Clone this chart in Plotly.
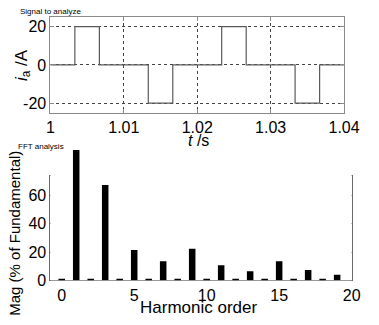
import plotly.graph_objects as go

# Signal (step breakpoints)
sig_t = [1.0, 1.00333, 1.00667, 1.01333, 1.01667, 1.02333, 1.02667, 1.03333, 1.03667, 1.04]
sig_i = [0, 20, 0, -20, 0, 20, 0, -20, 0, 0]

# FFT harmonics (fundamental bar runs past the top of the frame)
harm_order = list(range(0, 20))
harm_mag = [0.6, 92.2, 0.6, 67.5, 0.6, 21.4, 0.6, 13.4, 0.6, 22.4,
            0.6, 10.6, 0.6, 6.4, 0.6, 13.4, 0.6, 7.3, 0.6, 3.9]

top_xticks = [1, 1.01, 1.02, 1.03, 1.04]
top_xlabels = ["1", "1.01", "1.02", "1.03", "1.04"]
top_yticks = [-20, 0, 20]
bot_xticks = [0, 5, 10, 15, 20]
bot_yticks = [0, 20, 40, 60]

W, H = 379, 325
FONT = "Liberation Sans, Arial, sans-serif"


def px_x(a, b):
    return [a / W, b / W]


def px_y(top, bottom):
    return [1 - bottom / H, 1 - top / H]


# bottom plot geometry
B_TOP, B_BOT = 181.0, 288.3
B_YMAX = 73.8
BAR_TOP = 152.0
scale = (B_BOT - B_TOP) / B_YMAX
B3_YMAX = (B_BOT - BAR_TOP) / scale

fig = go.Figure()
fig.add_trace(go.Scatter(x=sig_t, y=sig_i, mode="lines", line_shape="hv",
                         line=dict(color="#5a5a5a", width=1.2),
                         xaxis="x", yaxis="y", showlegend=False, hoverinfo="skip"))
# empty trace so the bottom frame/axes are drawn
fig.add_trace(go.Scatter(x=[None], y=[None], mode="lines", xaxis="x2", yaxis="y2",
                         showlegend=False))
# bars on an overlay axis with identical scale but taller extent (so bar 1 can overflow)
fig.add_trace(go.Bar(x=harm_order, y=harm_mag, width=0.45,
                     marker=dict(color="black", line=dict(width=0)),
                     xaxis="x3", yaxis="y3", showlegend=False))

axis_common = dict(showline=True, mirror="ticks", linewidth=1,
                   ticks="inside", ticklen=4,
                   tickfont=dict(family=FONT, size=16, color="black"), zeroline=False)

fig.update_layout(
    width=W, height=H, margin=dict(l=0, r=0, t=0, b=0),
    paper_bgcolor="white", plot_bgcolor="white",
    font=dict(family=FONT, color="black"),
    xaxis=dict(domain=px_x(49, 359), anchor="y", range=[1, 1.04],
               tickvals=top_xticks, ticktext=top_xlabels,
               showgrid=True, gridcolor="#444444", griddash="dot", gridwidth=1,
               linecolor="#8a8a8a", tickcolor="#8a8a8a", **axis_common),
    yaxis=dict(domain=px_y(17.5, 116), anchor="x", range=[-25, 25],
               tickvals=top_yticks, ticktext=["-20", "0", "20"],
               showgrid=True, gridcolor="#444444", griddash="dot", gridwidth=1,
               linecolor="#8a8a8a", tickcolor="#8a8a8a", **axis_common),
    xaxis2=dict(domain=px_x(49, 367), anchor="y2", range=[-0.78, 20],
                tickvals=bot_xticks, showgrid=False,
                linecolor="#6a6a6a", tickcolor="#6a6a6a", **axis_common),
    yaxis2=dict(domain=px_y(B_TOP, B_BOT), anchor="x2", range=[0, B_YMAX],
                tickvals=bot_yticks, showgrid=False,
                linecolor="#6a6a6a", tickcolor="#6a6a6a", **axis_common),
    xaxis3=dict(domain=px_x(49, 367), anchor="y3", range=[-0.78, 20], visible=False,
                overlaying="x2"),
    yaxis3=dict(domain=px_y(BAR_TOP, B_BOT), anchor="x3", range=[0, B3_YMAX], visible=False),
    annotations=[
        dict(text="Signal to analyze", x=15 / W, y=1 - 11.5 / H, xref="paper", yref="paper",
             xanchor="left", yanchor="middle", showarrow=False,
             font=dict(family=FONT, size=8)),
        dict(text="FFT analysis", x=13 / W, y=1 - 150.5 / H, xref="paper", yref="paper",
             xanchor="left", yanchor="middle", showarrow=False,
             font=dict(family=FONT, size=8)),
        dict(text="<i>i</i><sub>a</sub> /A", x=20 / W, y=1 - 67 / H, xref="paper", yref="paper",
             xanchor="center", yanchor="middle", textangle=-90, showarrow=False,
             font=dict(family=FONT, size=17)),
        dict(text="<i>t</i> /s", x=205 / W, y=1 - 145 / H, xref="paper", yref="paper",
             xanchor="center", yanchor="middle", showarrow=False,
             font=dict(family=FONT, size=16)),
        dict(text="Mag (% of Fundamental)", x=11 / W, y=1 - 240 / H, xref="paper", yref="paper",
             xanchor="center", yanchor="middle", textangle=-90, showarrow=False,
             font=dict(family=FONT, size=15)),
        dict(text="Harmonic order", x=205 / W, y=1 - 316 / H, xref="paper", yref="paper",
             xanchor="center", yanchor="middle", showarrow=False,
             font=dict(family=FONT, size=17)),
    ],
)

fig.write_html("out.html")
